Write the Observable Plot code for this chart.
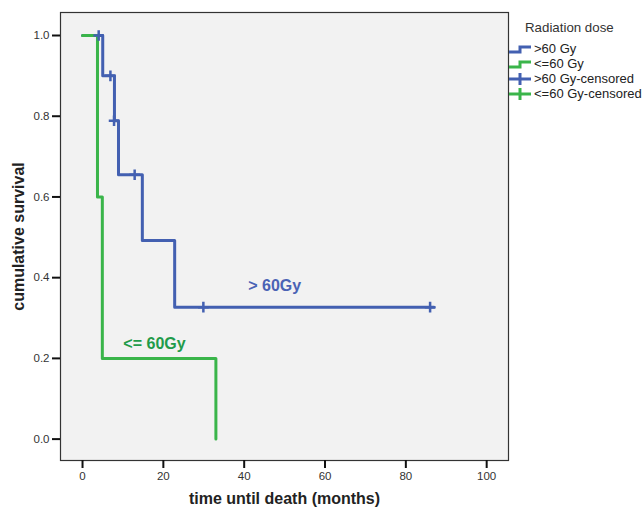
<!DOCTYPE html>
<html>
<head>
<meta charset="utf-8">
<script src="https://cdn.jsdelivr.net/npm/d3@7"></script>
<script src="https://cdn.jsdelivr.net/npm/@observablehq/plot@0.6"></script>
<style>
  body { margin: 0; background: #fff; }
  #wrap { position: relative; width: 644px; height: 513px; font-family: "Liberation Sans", Arial, sans-serif; }
  #legend { position: absolute; left: 508px; top: 20px; font-size: 13px; color: #222; }
  #legend .title { margin-left: 17px; font-size: 13.3px; margin-bottom: 6px; color: #333; }
  #legend .row { display: flex; align-items: center; height: 15px; }
  #legend svg { margin-right: 1px; }
</style>
</head>
<body>
<div id="wrap"></div>
<script>
// Kaplan-Meier steps (time in months, cumulative survival)
const blueTimes = [0, 5, 7.9, 8.9, 14.8, 22.8, 87];
const blueSurv  = [1.0, 0.90, 0.789, 0.655, 0.492, 0.327, 0.327];
const blueCensTimes = [4, 6.9, 7.8, 12.9, 29.9, 86];
const blueCensSurv  = [1.0, 0.90, 0.789, 0.655, 0.327, 0.327];

const greenTimes = [0, 3.7, 4.9, 33];
const greenSurv  = [1.0, 0.60, 0.20, 0.0];

const xTicks = [0, 20, 40, 60, 80, 100];
const yTicks = [0, 0.2, 0.4, 0.6, 0.8, 1.0];

const seriesLabels = [
  {text: "> 60Gy", t: 41, s: 0.38, color: "#4a63b5"},
  {text: "<= 60Gy", t: 10.1, s: 0.237, color: "#1f9b4a"}
];
const legendItems = [
  {label: ">60 Gy", color: "#4360b1", kind: "step"},
  {label: "<=60 Gy", color: "#3ab54a", kind: "step"},
  {label: ">60 Gy-censored", color: "#4360b1", kind: "cross"},
  {label: "<=60 Gy-censored", color: "#3ab54a", kind: "cross"}
];

const blue = blueTimes.map((t, i) => ({t, s: blueSurv[i]}));
const green = greenTimes.map((t, i) => ({t, s: greenSurv[i]}));
const blueCens = blueCensTimes.map((t, i) => ({t, s: blueCensSurv[i]}));

const BLUE = "#4360b1", GREEN = "#3ab54a";

const chart = Plot.plot({
  width: 644, height: 513,
  marginLeft: 60, marginRight: 136, marginTop: 12, marginBottom: 53,
  style: {fontFamily: "Liberation Sans, Arial, sans-serif", fontSize: "11.5px", color: "#222", background: "white"},
  x: {domain: [-5.45, 105.4], ticks: xTicks},
  y: {domain: [-0.053, 1.057], ticks: yTicks, tickFormat: d3.format(".1f")},
  marks: [
    Plot.frame({fill: "#f2f2f2", stroke: "none"}),
    Plot.line(blue, {x: "t", y: "s", curve: "step-after", stroke: BLUE, strokeWidth: 3}),
    Plot.line(green, {x: "t", y: "s", curve: "step-after", stroke: GREEN, strokeWidth: 3}),
    Plot.dot(blueCens, {x: "t", y: "s", symbol: "plus", r: 3.5, stroke: BLUE, strokeWidth: 2.5}),
    Plot.text(seriesLabels, {x: "t", y: "s", text: "text", fill: "color", textAnchor: "start", fontWeight: "bold", fontSize: 16}),
    Plot.frame({stroke: "#333", strokeWidth: 1.2}),
    Plot.axisX({ticks: xTicks, tickSize: 8, tickPadding: 3, strokeWidth: 2, stroke: "#111", fill: "#333", label: null}),
    Plot.axisY({ticks: yTicks, tickSize: 8, tickPadding: 3, strokeWidth: 2, stroke: "#111", fill: "#333", tickFormat: d3.format(".1f"), label: null}),
    Plot.text(["time until death (months)"], {frameAnchor: "bottom", dy: 43, text: d => d, textAnchor: "middle", fontWeight: "bold", fontSize: 16, fill: "#222"}),
    Plot.text(["cumulative survival"], {frameAnchor: "left", dx: -42, rotate: -90, text: d => d, textAnchor: "middle", fontWeight: "bold", fontSize: 16, fill: "#222"})
  ]
});

const wrap = document.getElementById("wrap");
wrap.appendChild(chart);

const legend = document.createElement("div");
legend.id = "legend";
let html = `<div class="title">Radiation dose</div>`;
for (const it of legendItems) {
  const icon = it.kind === "step"
    ? `<svg width="25" height="12"><path d="M1,9 H12 V4 H23" fill="none" stroke="${it.color}" stroke-width="3"/></svg>`
    : `<svg width="25" height="14"><path d="M1,7 H23 M12,1 V13" fill="none" stroke="${it.color}" stroke-width="3"/></svg>`;
  html += `<div class="row">${icon}<span>${it.label}</span></div>`;
}
legend.innerHTML = html;
wrap.appendChild(legend);
</script>
</body>
</html>
